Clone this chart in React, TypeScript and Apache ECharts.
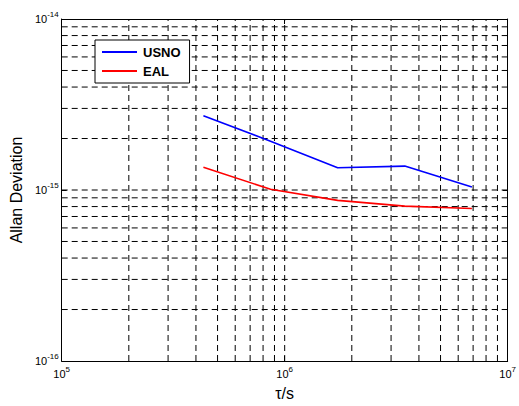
import React, { useEffect, useRef } from "react";
import * as echarts from "echarts";

const tau = [432000, 864000, 1728000, 3456000, 6912000];
const usno = [2.72e-15, 1.93e-15, 1.35e-15, 1.38e-15, 1.04e-15];
const eal = [1.36e-15, 1.01e-15, 8.7e-16, 8.05e-16, 7.8e-16];
const xGridValues = [2e5, 3e5, 4e5, 5e5, 6e5, 7e5, 8e5, 9e5, 1e6, 2e6, 3e6, 4e6, 5e6, 6e6, 7e6, 8e6, 9e6];
const yGridValues = [2e-16, 3e-16, 4e-16, 5e-16, 6e-16, 7e-16, 8e-16, 9e-16, 1e-15, 2e-15, 3e-15, 4e-15, 5e-15, 6e-15, 7e-15, 8e-15, 9e-15];
const xRange = [1e5, 1e7];
const yRange = [1e-16, 1e-14];

const FONT = "'Liberation Sans', Arial, sans-serif";

const powLabel = (v: number) => `{b|10}{s|${Math.round(Math.log10(v))}}`;
const powRich = {
  b: { fontSize: 11, fontFamily: FONT, color: "#000", lineHeight: 18 },
  s: { fontSize: 8, fontFamily: FONT, color: "#000", verticalAlign: "top", lineHeight: 8 },
};

export default function App() {
  const ref = useRef<HTMLDivElement>(null);
  useEffect(() => {
    if (!ref.current) return;
    const chart = echarts.init(ref.current, undefined, { renderer: "svg" });
    const gridStyle = { color: "#000", width: 1, type: [6, 4] as any };
    const gridSeries = [
      ...xGridValues.map((v) => ({
        type: "line",
        silent: true,
        z: 1,
        symbol: "none",
        lineStyle: gridStyle,
        data: [
          [v, yRange[0]],
          [v, yRange[1]],
        ],
      })),
      ...yGridValues.map((v) => ({
        type: "line",
        silent: true,
        z: 1,
        symbol: "none",
        lineStyle: gridStyle,
        data: [
          [xRange[0], v],
          [xRange[1], v],
        ],
      })),
    ];
    chart.setOption({
      animation: false,
      backgroundColor: "#fff",
      grid: { left: 60, top: 19, right: 7, bottom: 41 },
      legend: {
        data: [
          { name: "USNO", icon: "rect" },
          { name: "EAL", icon: "rect" },
        ],
        orient: "vertical",
        left: 95,
        top: 40,
        z: 10,
        backgroundColor: "#fff",
        borderColor: "#000",
        borderWidth: 1,
        padding: [5, 9, 5, 7],
        itemGap: 5,
        itemWidth: 35,
        itemHeight: 2,
        textStyle: { fontFamily: FONT, fontWeight: "bold", fontSize: 13, color: "#000", padding: [0, 0, 0, 1], lineHeight: 14 },
      },
      xAxis: [
        {
          type: "log",
          logBase: 10,
          min: xRange[0],
          max: xRange[1],
          name: "τ/s",
          nameLocation: "middle",
          nameGap: 24,
          nameTextStyle: { fontFamily: FONT, fontSize: 16, color: "#000" },
          axisLine: { show: true, lineStyle: { color: "#000", width: 1 } },
          axisTick: { show: true, inside: true, length: 5, lineStyle: { color: "#000" } },
          axisLabel: { formatter: powLabel, rich: powRich, margin: 4 },
          splitLine: { show: false },
        },
        {
          type: "log",
          logBase: 10,
          min: xRange[0],
          max: xRange[1],
          position: "top",
          axisLine: { show: true, lineStyle: { color: "#000", width: 1 } },
          axisTick: { show: true, inside: true, length: 5, lineStyle: { color: "#000" } },
          axisLabel: { show: false },
          splitLine: { show: false },
        },
      ],
      yAxis: [
        {
          type: "log",
          logBase: 10,
          min: yRange[0],
          max: yRange[1],
          name: "Allan Deviation",
          nameLocation: "middle",
          nameGap: 35,
          nameTextStyle: { fontFamily: FONT, fontSize: 16, color: "#000" },
          axisLine: { show: true, lineStyle: { color: "#000", width: 1 } },
          axisTick: { show: true, inside: true, length: 5, lineStyle: { color: "#000" } },
          axisLabel: { formatter: powLabel, rich: powRich, margin: 3 },
          splitLine: { show: false },
        },
        {
          type: "log",
          logBase: 10,
          min: yRange[0],
          max: yRange[1],
          position: "right",
          axisLine: { show: true, lineStyle: { color: "#000", width: 1 } },
          axisTick: { show: true, inside: true, length: 5, lineStyle: { color: "#000" } },
          axisLabel: { show: false },
          splitLine: { show: false },
        },
      ],
      series: [
        ...gridSeries,
        {
          name: "USNO",
          type: "line",
          z: 3,
          data: tau.map((t, i) => [t, usno[i]]),
          showSymbol: false,
          symbol: "none",
          lineStyle: { color: "#0000ff", width: 1.6 },
          itemStyle: { color: "#0000ff" },
        },
        {
          name: "EAL",
          type: "line",
          z: 3,
          data: tau.map((t, i) => [t, eal[i]]),
          showSymbol: false,
          symbol: "none",
          lineStyle: { color: "#ff0000", width: 1.6 },
          itemStyle: { color: "#ff0000" },
        },
      ],
    });
    return () => chart.dispose();
  }, []);
  return (
    <div
      ref={ref}
      style={{ position: "fixed", left: 0, top: 0, width: 519, height: 406, background: "#fff" }}
    />
  );
}
